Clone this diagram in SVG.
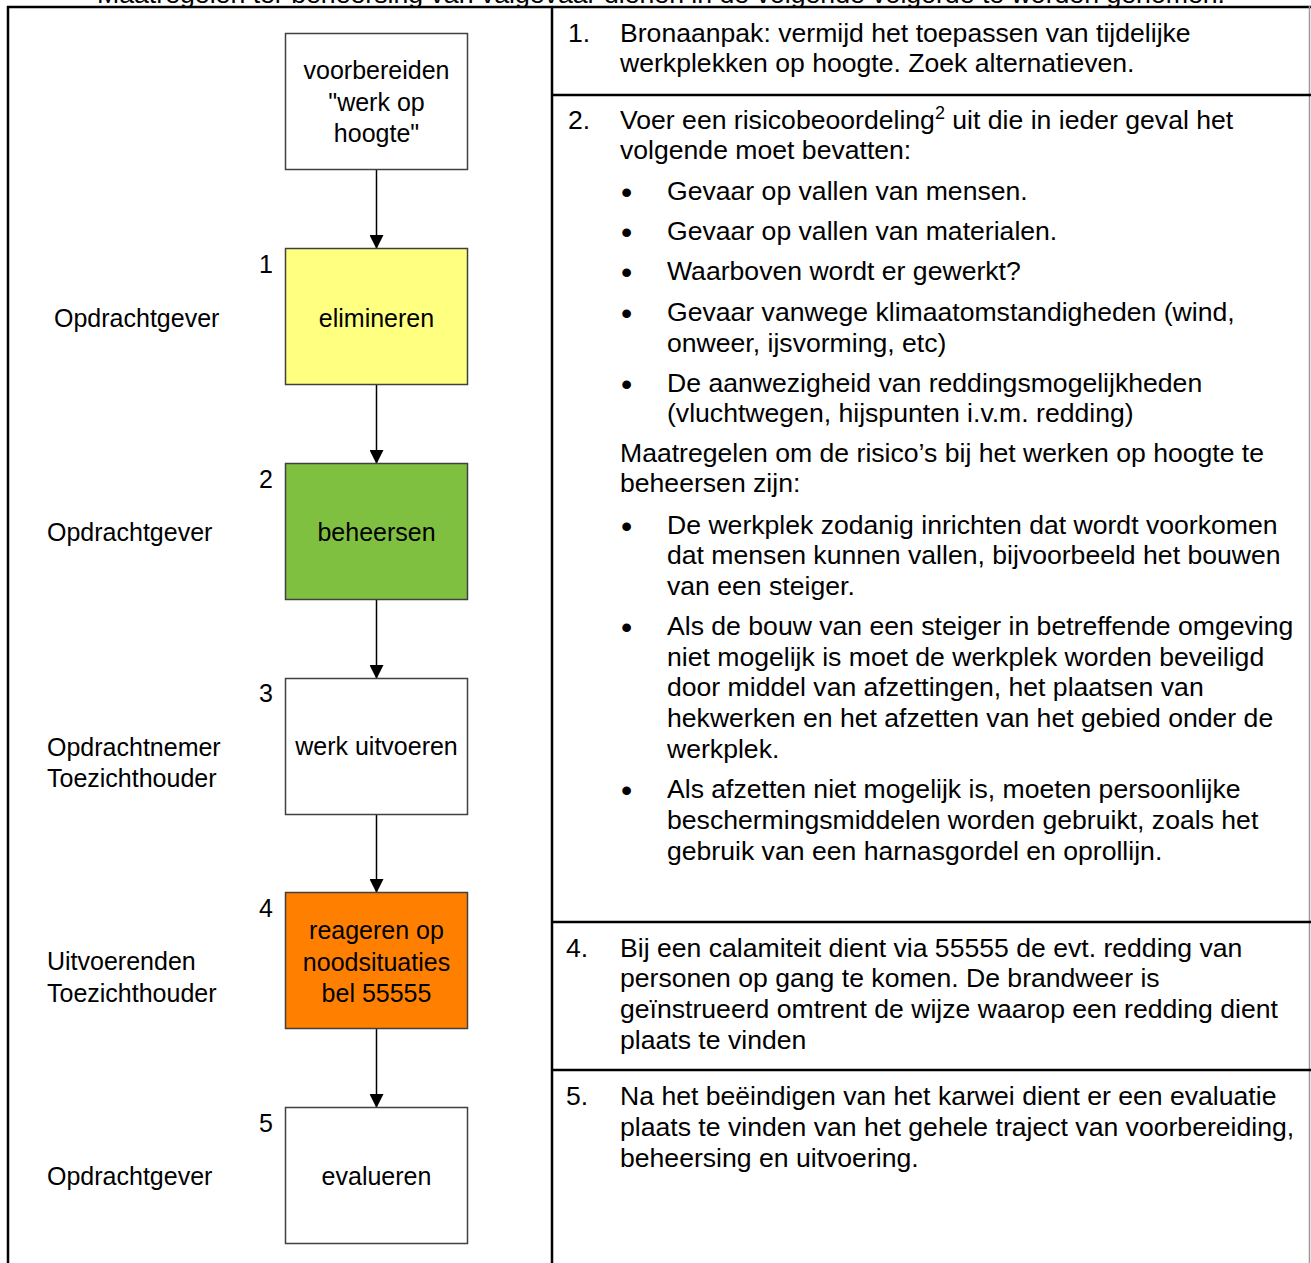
<svg xmlns="http://www.w3.org/2000/svg" width="1311" height="1263" viewBox="0 0 1311 1263">
<style>
text{font-family:"Liberation Sans",Arial,sans-serif;font-size:25px;fill:#000}
.r text{font-size:26.6px}
.c{text-anchor:middle}
.n{text-anchor:end}
.r .b{font-size:32px}
.box{stroke:#404040;stroke-width:1.5}
.conn{stroke:#000;stroke-width:1.5;fill:none}
.frame{stroke:#000;stroke-width:2.5;fill:none}
</style>
<defs>
<marker id="ah" markerWidth="14" markerHeight="14" refX="13" refY="7" orient="auto" markerUnits="userSpaceOnUse">
<path d="M0,0 L14,7 L0,14 Z" fill="#000"/>
</marker>
</defs>
<rect width="1311" height="1263" fill="#fff"/>
<text x="97" y="3" textLength="1128" lengthAdjust="spacingAndGlyphs">Maatregelen ter beheersing van valgevaar dienen in de volgende volgorde te worden genomen.</text>
<g id="table">
<line class="frame" x1="7" y1="7" x2="1311" y2="7"/>
<line class="frame" x1="8" y1="6" x2="8" y2="1263"/>
<line class="frame" x1="552" y1="6" x2="552" y2="1263"/>
<line x1="1309.5" y1="6" x2="1309.5" y2="1263" stroke="#999" stroke-width="1.5"/>
<line class="frame" x1="552" y1="95" x2="1311" y2="95"/>
<line class="frame" x1="552" y1="922" x2="1311" y2="922"/>
<line class="frame" x1="552" y1="1070" x2="1311" y2="1070"/>
</g>
<g id="connectors">
<line class="conn" x1="376.5" y1="170" x2="376.5" y2="248" marker-end="url(#ah)"/>
<line class="conn" x1="376.5" y1="385" x2="376.5" y2="463" marker-end="url(#ah)"/>
<line class="conn" x1="376.5" y1="600" x2="376.5" y2="678" marker-end="url(#ah)"/>
<line class="conn" x1="376.5" y1="815" x2="376.5" y2="892" marker-end="url(#ah)"/>
<line class="conn" x1="376.5" y1="1028" x2="376.5" y2="1107" marker-end="url(#ah)"/>
</g>
<g id="node-prep">
<rect class="box" x="285.5" y="33.5" width="182" height="136" fill="#fff"/>
<text class="c" x="376.5" y="79">voorbereiden</text>
<text class="c" x="376.5" y="111">"werk op</text>
<text class="c" x="376.5" y="142">hoogte"</text>
</g>
<g id="node-1">
<rect class="box" x="285.5" y="248.5" width="182" height="136" fill="#FFFF80"/>
<text class="c" x="376.5" y="327">elimineren</text>
<text class="n" x="273" y="273">1</text>
<text x="54" y="327">Opdrachtgever</text>
</g>
<g id="node-2">
<rect class="box" x="285.5" y="463.5" width="182" height="136" fill="#80C040"/>
<text class="c" x="376.5" y="541">beheersen</text>
<text class="n" x="273" y="488">2</text>
<text x="47" y="541">Opdrachtgever</text>
</g>
<g id="node-3">
<rect class="box" x="285.5" y="678.5" width="182" height="136" fill="#fff"/>
<text class="c" x="376.5" y="755">werk uitvoeren</text>
<text class="n" x="273" y="702">3</text>
<text x="47" y="756">Opdrachtnemer</text>
<text x="47" y="787">Toezichthouder</text>
</g>
<g id="node-4">
<rect class="box" x="285.5" y="892.5" width="182" height="136" fill="#FF8000"/>
<text class="c" x="376.5" y="939">reageren op</text>
<text class="c" x="376.5" y="971">noodsituaties</text>
<text class="c" x="376.5" y="1002">bel 55555</text>
<text class="n" x="273" y="917">4</text>
<text x="47" y="970">Uitvoerenden</text>
<text x="47" y="1002">Toezichthouder</text>
</g>
<g id="node-5">
<rect class="box" x="285.5" y="1107.5" width="182" height="136" fill="#fff"/>
<text class="c" x="376.5" y="1185">evalueren</text>
<text class="n" x="273" y="1132">5</text>
<text x="47" y="1185">Opdrachtgever</text>
</g>
<g id="row-1" class="r">
<text x="568" y="42">1.</text>
<text x="620" y="42">Bronaanpak: vermijd het toepassen van tijdelijke</text>
<text x="620" y="72">werkplekken op hoogte. Zoek alternatieven.</text>
</g>
<g id="row-2" class="r">
<text x="568" y="129">2.</text>
<text x="620" y="129">Voer een risicobeoordeling<tspan dy="-10" font-size="18">2</tspan><tspan dy="10"> uit die in ieder geval het</tspan></text>
<text x="620" y="159">volgende moet bevatten:</text>
<text class="b" x="621" y="203">•</text><text x="667" y="200">Gevaar op vallen van mensen.</text>
<text class="b" x="621" y="243">•</text><text x="667" y="240">Gevaar op vallen van materialen.</text>
<text class="b" x="621" y="283">•</text><text x="667" y="280">Waarboven wordt er gewerkt?</text>
<text class="b" x="621" y="324">•</text><text x="667" y="321">Gevaar vanwege klimaatomstandigheden (wind,</text>
<text x="667" y="352">onweer, ijsvorming, etc)</text>
<text class="b" x="621" y="395">•</text><text x="667" y="392">De aanwezigheid van reddingsmogelijkheden</text>
<text x="667" y="422">(vluchtwegen, hijspunten i.v.m. redding)</text>
<text x="620" y="462">Maatregelen om de risico’s bij het werken op hoogte te</text>
<text x="620" y="492">beheersen zijn:</text>
<text class="b" x="621" y="537">•</text><text x="667" y="534">De werkplek zodanig inrichten dat wordt voorkomen</text>
<text x="667" y="564">dat mensen kunnen vallen, bijvoorbeeld het bouwen</text>
<text x="667" y="595">van een steiger.</text>
<text class="b" x="621" y="638">•</text><text x="667" y="635">Als de bouw van een steiger in betreffende omgeving</text>
<text x="667" y="666">niet mogelijk is moet de werkplek worden beveiligd</text>
<text x="667" y="696">door middel van afzettingen, het plaatsen van</text>
<text x="667" y="727">hekwerken en het afzetten van het gebied onder de</text>
<text x="667" y="758">werkplek.</text>
<text class="b" x="621" y="801">•</text><text x="667" y="798">Als afzetten niet mogelijk is, moeten persoonlijke</text>
<text x="667" y="829">beschermingsmiddelen worden gebruikt, zoals het</text>
<text x="667" y="860">gebruik van een harnasgordel en oprollijn.</text>
</g>
<g id="row-4" class="r">
<text x="566" y="957">4.</text>
<text x="620" y="957">Bij een calamiteit dient via 55555 de evt. redding van</text>
<text x="620" y="987">personen op gang te komen. De brandweer is</text>
<text x="620" y="1018">geïnstrueerd omtrent de wijze waarop een redding dient</text>
<text x="620" y="1049">plaats te vinden</text>
</g>
<g id="row-5" class="r">
<text x="566" y="1105">5.</text>
<text x="620" y="1105">Na het beëindigen van het karwei dient er een evaluatie</text>
<text x="620" y="1136">plaats te vinden van het gehele traject van voorbereiding,</text>
<text x="620" y="1167">beheersing en uitvoering.</text>
</g>
</svg>
